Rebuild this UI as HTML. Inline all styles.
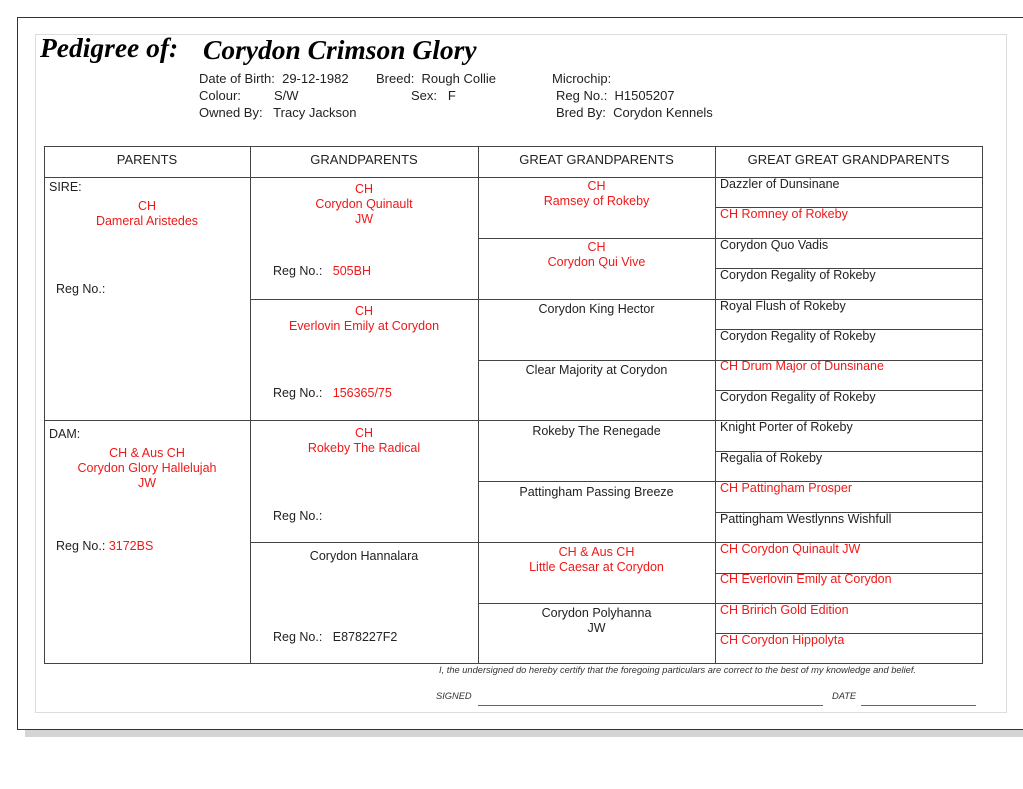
<!DOCTYPE html>
<html><head><meta charset="utf-8"><style>
*{margin:0;padding:0;box-sizing:border-box}
body{width:1023px;height:789px;background:#fff;position:relative;overflow:hidden;font-family:"Liberation Sans",Arial,sans-serif;font-size:12.5px;color:#222}
div{position:absolute}
.t{white-space:nowrap}
.r{color:#f01818}
.c{text-align:center}
.h{position:absolute;height:1px;background:#444}
.v{position:absolute;width:1px;background:#444}
.i{font-size:13px}
</style></head><body>
<div style="left:25px;top:729px;width:1000px;height:8px;background:#d4d4d4"></div>
<div style="left:17px;top:17px;width:1020px;height:713px;border:1px solid #333;background:#fff"></div>
<div style="left:35px;top:34px;width:972px;height:679px;border:1px solid #ddd"></div>
<div class="t" style="left:40px;top:32px;font-family:'Liberation Serif',serif;font-style:italic;font-weight:bold;font-size:27.5px;color:#000">Pedigree of:</div>
<div class="t" style="left:203px;top:34px;font-family:'Liberation Serif',serif;font-style:italic;font-weight:bold;font-size:27.5px;color:#000">Corydon Crimson Glory</div>
<div class="t i" style="left:199px;top:71px">Date of Birth:&nbsp; 29-12-1982</div>
<div class="t i" style="left:199px;top:88px">Colour:</div><div class="t i" style="left:274px;top:88px">S/W</div>
<div class="t i" style="left:199px;top:105px">Owned By:&nbsp;&nbsp; Tracy Jackson</div>
<div class="t i" style="left:376px;top:71px">Breed:&nbsp; Rough Collie</div>
<div class="t i" style="left:411px;top:88px">Sex:&nbsp;&nbsp; F</div>
<div class="t i" style="left:552px;top:71px">Microchip:</div>
<div class="t i" style="left:556px;top:88px">Reg No.:&nbsp; H1505207</div>
<div class="t i" style="left:556px;top:105px">Bred By:&nbsp; Corydon Kennels</div>

<div style="left:44px;top:146px;width:939px;height:518px;border:1px solid #444"></div>
<div class="h" style="left:44px;top:177px;width:938px"></div>
<div class="h" style="left:44px;top:420px;width:938px"></div>
<div class="h" style="left:250px;top:299px;width:732px"></div>
<div class="h" style="left:250px;top:542px;width:732px"></div>
<div class="h" style="left:478px;top:238px;width:504px"></div>
<div class="h" style="left:478px;top:360px;width:504px"></div>
<div class="h" style="left:478px;top:481px;width:504px"></div>
<div class="h" style="left:478px;top:603px;width:504px"></div>
<div class="h" style="left:715px;top:207px;width:267px"></div>
<div class="h" style="left:715px;top:268px;width:267px"></div>
<div class="h" style="left:715px;top:329px;width:267px"></div>
<div class="h" style="left:715px;top:390px;width:267px"></div>
<div class="h" style="left:715px;top:451px;width:267px"></div>
<div class="h" style="left:715px;top:512px;width:267px"></div>
<div class="h" style="left:715px;top:573px;width:267px"></div>
<div class="h" style="left:715px;top:633px;width:267px"></div>
<div class="v" style="left:250px;top:146px;height:518px"></div>
<div class="v" style="left:478px;top:146px;height:518px"></div>
<div class="v" style="left:715px;top:146px;height:518px"></div>

<div class="c i" style="left:44px;top:152px;width:206px">PARENTS</div>
<div class="c i" style="left:250px;top:152px;width:228px">GRANDPARENTS</div>
<div class="c i" style="left:478px;top:152px;width:237px">GREAT GRANDPARENTS</div>
<div class="c i" style="left:715px;top:152px;width:267px">GREAT GREAT GRANDPARENTS</div>

<div class="t" style="left:49px;top:180px">SIRE:</div>
<div class="c r" style="left:44px;top:199px;width:206px;line-height:15px">CH<br>Dameral Aristedes</div>
<div class="t" style="left:56px;top:282px">Reg No.:</div>
<div class="t" style="left:49px;top:427px">DAM:</div>
<div class="c r" style="left:44px;top:446px;width:206px;line-height:15px">CH &amp; Aus CH<br>Corydon Glory Hallelujah<br>JW</div>
<div class="t" style="left:56px;top:539px">Reg No.: <span class="r">3172BS</span></div>

<div class="c r" style="left:250px;top:182px;width:228px;line-height:15px">CH<br>Corydon Quinault<br>JW</div>
<div class="t" style="left:273px;top:264px">Reg No.:&nbsp;&nbsp; <span class="r">505BH</span></div>
<div class="c r" style="left:250px;top:304px;width:228px;line-height:15px">CH<br>Everlovin Emily at Corydon</div>
<div class="t" style="left:273px;top:386px">Reg No.:&nbsp;&nbsp; <span class="r">156365/75</span></div>
<div class="c r" style="left:250px;top:426px;width:228px;line-height:15px">CH<br>Rokeby The Radical</div>
<div class="t" style="left:273px;top:509px">Reg No.:</div>
<div class="c" style="left:250px;top:549px;width:228px">Corydon Hannalara</div>
<div class="t" style="left:273px;top:630px">Reg No.:&nbsp;&nbsp; E878227F2</div>

<div class="c r" style="left:478px;top:179px;width:237px;line-height:15px">CH<br>Ramsey of Rokeby</div>
<div class="c r" style="left:478px;top:240px;width:237px;line-height:15px">CH<br>Corydon Qui Vive</div>
<div class="c" style="left:478px;top:302px;width:237px">Corydon King Hector</div>
<div class="c" style="left:478px;top:363px;width:237px">Clear Majority at Corydon</div>
<div class="c" style="left:478px;top:424px;width:237px">Rokeby The Renegade</div>
<div class="c" style="left:478px;top:485px;width:237px">Pattingham Passing Breeze</div>
<div class="c r" style="left:478px;top:545px;width:237px;line-height:15px">CH &amp; Aus CH<br>Little Caesar at Corydon</div>
<div class="c" style="left:478px;top:606px;width:237px;line-height:15px">Corydon Polyhanna<br>JW</div>

<div class="t" style="left:720px;top:177px">Dazzler of Dunsinane</div>
<div class="t r" style="left:720px;top:207px">CH Romney of Rokeby</div>
<div class="t" style="left:720px;top:238px">Corydon Quo Vadis</div>
<div class="t" style="left:720px;top:268px">Corydon Regality of Rokeby</div>
<div class="t" style="left:720px;top:299px">Royal Flush of Rokeby</div>
<div class="t" style="left:720px;top:329px">Corydon Regality of Rokeby</div>
<div class="t r" style="left:720px;top:359px">CH Drum Major of Dunsinane</div>
<div class="t" style="left:720px;top:390px">Corydon Regality of Rokeby</div>
<div class="t" style="left:720px;top:420px">Knight Porter of Rokeby</div>
<div class="t" style="left:720px;top:451px">Regalia of Rokeby</div>
<div class="t r" style="left:720px;top:481px">CH Pattingham Prosper</div>
<div class="t" style="left:720px;top:512px">Pattingham Westlynns Wishfull</div>
<div class="t r" style="left:720px;top:542px">CH Corydon Quinault JW</div>
<div class="t r" style="left:720px;top:572px">CH Everlovin Emily at Corydon</div>
<div class="t r" style="left:720px;top:603px">CH Bririch Gold Edition</div>
<div class="t r" style="left:720px;top:633px">CH Corydon Hippolyta</div>

<div class="t" style="left:439px;top:665px;font-size:9.3px;font-style:italic;color:#333">I, the undersigned do hereby certify that the foregoing particulars are correct to the best of my knowledge and belief.</div>
<div class="t" style="left:436px;top:691px;font-size:9.3px;font-style:italic;color:#333">SIGNED</div>
<div class="h" style="left:478px;top:705px;width:345px;background:#666"></div>
<div class="t" style="left:832px;top:691px;font-size:9.3px;font-style:italic;color:#333">DATE</div>
<div class="h" style="left:861px;top:705px;width:115px;background:#666"></div>
</body></html>
